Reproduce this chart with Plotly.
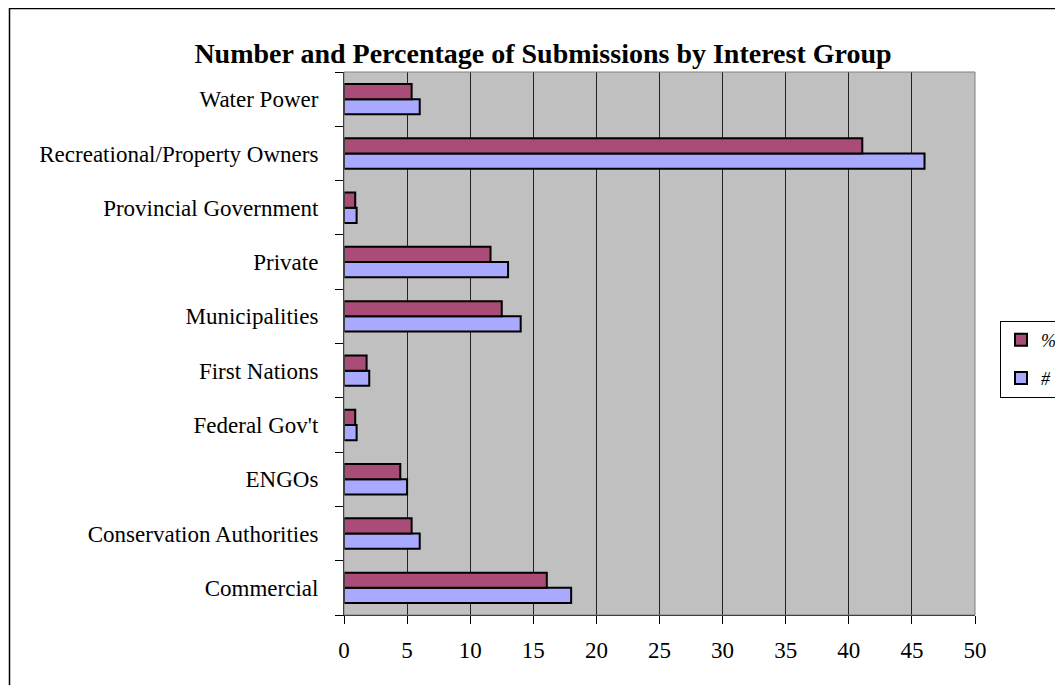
import plotly.graph_objects as go

categories = ["Commercial", "Conservation Authorities", "ENGOs", "Federal Gov't",
              "First Nations", "Municipalities", "Private", "Provincial Government",
              "Recreational/Property Owners", "Water Power"]
count_values = [18, 6, 5, 1, 2, 14, 13, 1, 46, 6]
pct_values = [16.07, 5.36, 4.46, 0.89, 1.79, 12.5, 11.61, 0.89, 41.07, 5.36]
x_ticks = [0, 5, 10, 15, 20, 25, 30, 35, 40, 45, 50]

FONT = "Liberation Serif, Times New Roman, serif"

# page is offset by the 8px body margin
OFF = 8
W, H = 1063 - OFF, 685 - OFF
L, R, T, B = 344 - OFF, 975 - OFF, 72 - OFF, 615 - OFF

fig = go.Figure()
fig.add_trace(go.Bar(y=categories, x=count_values, orientation="h", name="#",
                     marker=dict(color="#A9A9FF", line=dict(color="black", width=2)),
                     legendgroup="b", legendrank=2))
fig.add_trace(go.Bar(y=categories, x=pct_values, orientation="h", name="%",
                     marker=dict(color="#A94C77", line=dict(color="black", width=2)),
                     legendgroup="a", legendrank=1))

fig.update_layout(
    width=W, height=H,
    margin=dict(l=L, r=W - R, t=T, b=H - B, autoexpand=False),
    paper_bgcolor="white", plot_bgcolor="#C0C0C0",
    barmode="group", bargap=0.44, bargroupgap=0,
    font=dict(family=FONT, size=23, color="black"),
    title=dict(text="<b>Number and Percentage of Submissions by Interest Group</b>",
               font=dict(family=FONT, size=28, color="black"),
               x=(543 - OFF)/W, xref="container", xanchor="center",
               y=1-(53 - OFF)/H, yref="container", yanchor="middle"),
    xaxis=dict(range=[0, 50], tickvals=x_ticks, showgrid=True, gridcolor="#222222",
               gridwidth=1, ticks="outside", ticklen=8, tickcolor="black",
               showline=True, linecolor="black", linewidth=1, zeroline=False,
               ticklabelstandoff=6, tickfont=dict(size=23)),
    yaxis=dict(categoryorder="array", categoryarray=categories, ticks="outside",
               tickson="boundaries", ticklen=8, tickcolor="black", showline=True,
               linecolor="black", linewidth=1, showgrid=False,
               ticklabelstandoff=20, tickfont=dict(size=23)),
    legend=dict(x=(1000 - OFF)/W, xref="container", xanchor="left",
                y=1-(359 - OFF)/H, yref="container", yanchor="middle",
                traceorder="grouped", tracegroupgap=12,
                bgcolor="white", bordercolor="black", borderwidth=1,
                font=dict(family=FONT, size=18, style="italic")),
    shapes=[
        dict(type="rect", xref="paper", yref="paper", x0=0, x1=1, y0=0, y1=1,
             line=dict(color="#808080", width=1), fillcolor="rgba(0,0,0,0)"),
        dict(type="rect", xref="paper", yref="paper",
             x0=(1.5 - L)/(R - L), x1=1.3, y0=-0.3, y1=(B - 0.5)/(B - T),
             line=dict(color="black", width=1.5), fillcolor="rgba(0,0,0,0)", layer="below"),
    ],
)

fig.write_html("out.html")
